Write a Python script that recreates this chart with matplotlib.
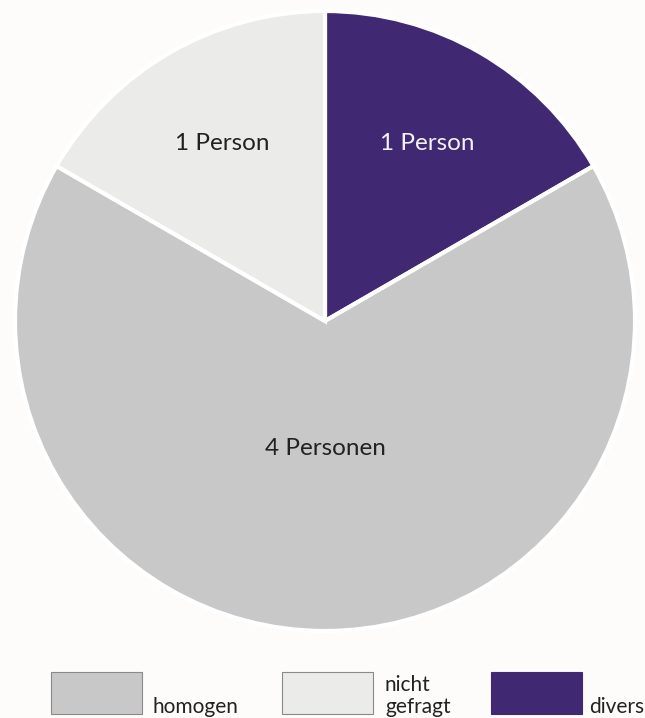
import numpy as np
import matplotlib.pyplot as plt
from matplotlib.patches import Rectangle

# data
categories = ['divers', 'homogen', 'nicht gefragt']
counts = [1, 4, 1]
slice_labels = ['1 Person', '4 Personen', '1 Person']
colors = ['#412873', '#c8c8c8', '#ebebe9']
text_colors = ['#f4f0f8', '#222222', '#222222']

legend_order = ['homogen', 'nicht gefragt', 'divers']
legend_text = ['homogen', 'nicht\ngefragt', 'divers']

plt.rcParams['font.family'] = ['Lato', 'DejaVu Sans']

W, H = 645, 718
fig = plt.figure(figsize=(W / 100, H / 100), dpi=100, facecolor='#fdfcfb')
ax = fig.add_axes([0, 0, 1, 1])

cx, cy, R = 325, H - 321, 310
wedges, texts = ax.pie(counts, labels=slice_labels, colors=colors,
                       startangle=90, counterclock=False,
                       center=(cx, cy), radius=R, labeldistance=0.66,
                       wedgeprops=dict(edgecolor='white', linewidth=3),
                       textprops=dict(fontsize=17.5), frame=True)
ax.set_xlim(0, W)
ax.set_ylim(0, H)
ax.set_aspect('equal')
ax.axis('off')

for w, t, tc, n in zip(wedges, texts, text_colors, counts):
    t.set_color(tc)
    t.set_ha('center')
    t.set_va('center')
    if n > 1:
        mid = np.deg2rad((w.theta1 + w.theta2) / 2)
        t.set_position((cx + 0.41 * R * np.cos(mid), cy + 0.41 * R * np.sin(mid)))

# legend boxes
box_x = [51, 282, 491]
label_x = [152, 385, 589]
for bx, lx, name, lt in zip(box_x, label_x, legend_order, legend_text):
    c = colors[categories.index(name)]
    ax.add_patch(Rectangle((bx, H - 714), 91, 42, facecolor=c,
                           edgecolor='#8a8a8a' if name != 'divers' else c, linewidth=0.8))
    ax.text(lx, H - 717, lt, fontsize=15, color='#222222',
            ha='left', va='bottom', linespacing=1.1)

fig.savefig('out.png', dpi=100, facecolor=fig.get_facecolor())
